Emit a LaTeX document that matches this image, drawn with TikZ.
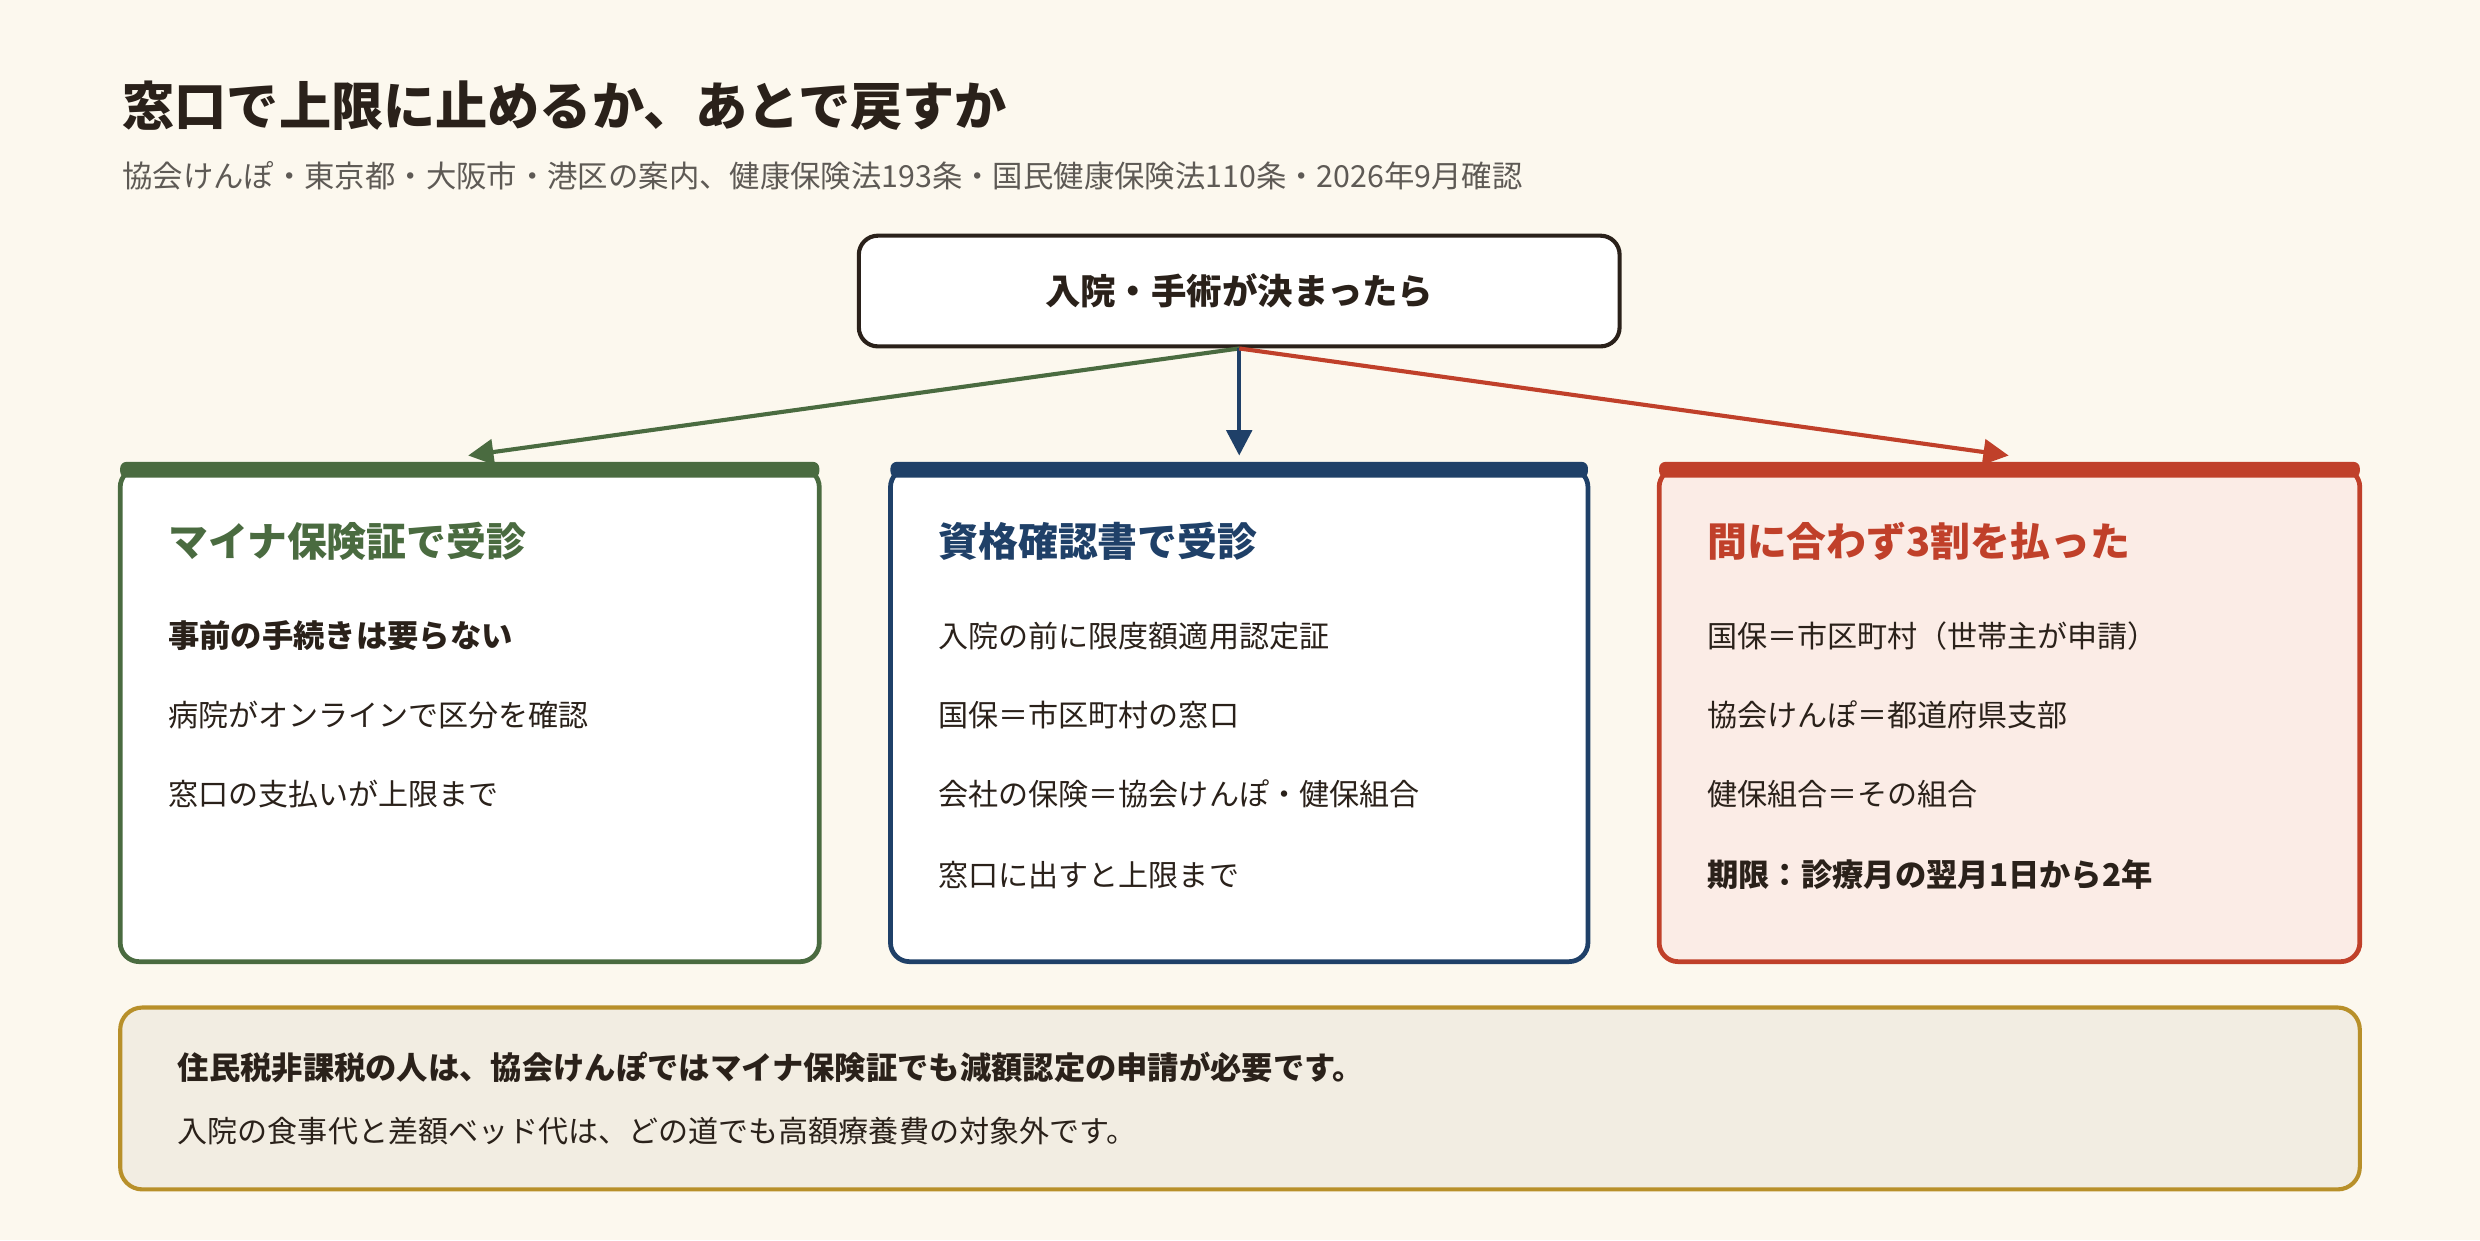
\documentclass[tikz,border=0pt]{standalone}
\usepackage{fontspec}
\setmainfont{Noto Sans CJK JP}
\usetikzlibrary{arrows.meta}
\definecolor{bg}{HTML}{FCF8EE}
\definecolor{cg}{HTML}{4A6B40}
\definecolor{cn}{HTML}{1F4068}
\definecolor{cr}{HTML}{C0402A}
\definecolor{pk}{HTML}{FBECE6}
\definecolor{nb}{HTML}{F2EDE2}
\definecolor{gd}{HTML}{B8902A}
\definecolor{tx}{HTML}{2A211A}
\definecolor{gy}{HTML}{5E5A55}
\begin{document}
\begin{tikzpicture}[x=0.5pt,y=-0.5pt,
 card/.style={draw=#1,line width=1.5pt,rounded corners=6pt},
 bar/.style={fill=#1,rounded corners=2pt},
 ttl/.style={anchor=west,inner sep=0pt,font=\fontsize{12.6}{15}\selectfont\bfseries,text=#1},
 itm/.style={anchor=west,inner sep=0pt,font=\fontsize{9.5}{11}\selectfont,text=tx},
 bitm/.style={itm,font=\fontsize{9.9}{11}\selectfont\bfseries},
 arr/.style={draw=#1,line width=1.3pt,-{Triangle[length=8pt,width=8pt]}}]
\fill[bg] (0,0) rectangle (1568,784);
\node[anchor=west,inner sep=0pt,font=\fontsize{16.5}{19}\selectfont\bfseries,text=tx] (title) at (77,67) {窓口で上限に止めるか、あとで戻すか};
\node[anchor=west,inner sep=0pt,font=\fontsize{9.6}{11}\selectfont,text=gy] (sub) at (77,111) {協会けんぽ・東京都・大阪市・港区の案内、健康保険法193条・国民健康保険法110条・2026年9月確認};
\node[draw=tx,fill=white,line width=1.3pt,rounded corners=6pt,minimum width=481*0.5pt,minimum height=70*0.5pt,font=\fontsize{11.2}{13}\selectfont\bfseries,text=tx] (top) at (783.5,184) {入院・手術が決まったら};
% cards
\draw[card=cg,fill=white] (76,296) rectangle (518,608);
\fill[bar=cg] (76,292) rectangle (518,302);
\draw[card=cn,fill=white] (563,296) rectangle (1004,608);
\fill[bar=cn] (563,292) rectangle (1004,302);
\draw[card=cr,fill=pk] (1049,296) rectangle (1492,608);
\fill[bar=cr] (1049,292) rectangle (1492,302);
\coordinate (g) at (296,288);
\coordinate (n) at (783.5,288);
\coordinate (r) at (1270,288);
\draw[arr=cg] (top.south) -- (g);
\draw[arr=cn] (top.south) -- (n);
\draw[arr=cr] (top.south) -- (r);
% green
\node[ttl=cg] (g0) at (106,342) {マイナ保険証で受診};
\node[bitm] (g1) at (106,402) {事前の手続きは要らない};
\node[itm] (g2) at (106,452) {病院がオンラインで区分を確認};
\node[itm] (g3) at (106,502) {窓口の支払いが上限まで};
% navy
\node[ttl=cn] (n0) at (593,342) {資格確認書で受診};
\node[itm] (n1) at (593,402) {入院の前に限度額適用認定証};
\node[itm] (n2) at (593,452) {国保＝市区町村の窓口};
\node[itm] (n3) at (593,502) {会社の保険＝協会けんぽ・健保組合};
\node[itm] (n4) at (593,553) {窓口に出すと上限まで};
% red
\node[ttl=cr] (r0) at (1079,342) {間に合わず3割を払った};
\node[itm] (r1) at (1079,402) {国保＝市区町村（世帯主が申請）};
\node[itm] (r2) at (1079,452) {協会けんぽ＝都道府県支部};
\node[itm] (r3) at (1079,502) {健保組合＝その組合};
\node[bitm] (r4) at (1079,553) {期限：診療月の翌月1日から2年};
% note
\draw[draw=gd,fill=nb,line width=1.3pt,rounded corners=7pt] (76,637) rectangle (1492,752);
\node[bitm] (b1) at (112,675) {住民税非課税の人は、協会けんぽではマイナ保険証でも減額認定の申請が必要です。};
\node[itm] (b2) at (112,715) {入院の食事代と差額ベッド代は、どの道でも高額療養費の対象外です。};
\end{tikzpicture}
\end{document}
